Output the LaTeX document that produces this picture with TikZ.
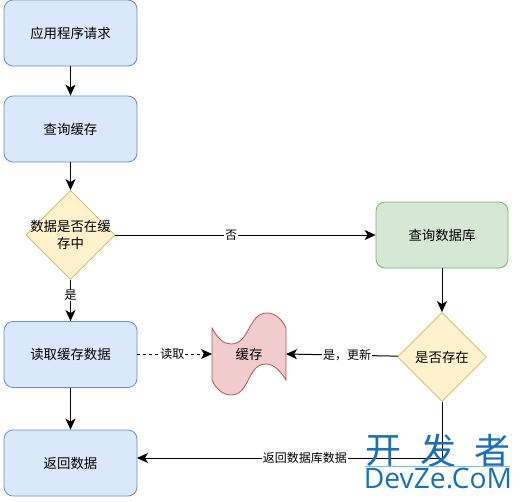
\documentclass[tikz,border=0pt]{standalone}
\usepackage{fontspec}
\setmainfont{Noto Sans CJK SC}
\newfontfamily\wmfont{Open Sans}
\usetikzlibrary{shapes.geometric,arrows.meta}
\definecolor{bfill}{HTML}{DAE8FC}\definecolor{bline}{HTML}{6C8EBF}
\definecolor{yfill}{HTML}{FFF2CC}\definecolor{yline}{HTML}{D6B656}
\definecolor{gfill}{HTML}{D5E8D4}\definecolor{gline}{HTML}{82B366}
\definecolor{rfill}{HTML}{F0CCCC}\definecolor{rline}{HTML}{B85450}
\definecolor{wmblue}{HTML}{1A6FB5}\definecolor{wmline}{HTML}{6CC4EE}
\tikzset{
 txt/.style={font=\fontsize{13.4}{17}\selectfont,text=black},
 bluebox/.style={txt,draw=bline,fill=bfill,rounded corners=9pt,minimum width=133pt,minimum height=66pt,inner sep=0pt,line width=.8pt},
 greenbox/.style={txt,draw=gline,fill=gfill,rounded corners=9pt,minimum width=132pt,minimum height=66pt,inner sep=0pt,line width=.8pt},
 dec/.style={draw=yline,fill=yfill,diamond,aspect=1,minimum width=89pt,minimum height=89pt,inner sep=0pt,line width=.8pt},
 dectxt/.style={txt,align=center,inner sep=0pt},
 conn/.style={-{Stealth[length=11pt,width=10pt,inset=3pt]},line width=1pt,black},
 lab/.style={font=\fontsize{12}{14}\selectfont,fill=white,inner xsep=1pt,inner ysep=0pt,text=black},
 wm/.style={text=wmblue,inner sep=0pt}
}
\begin{document}
\begin{tikzpicture}[x=1pt,y=-1pt]
\useasboundingbox (0,0) rectangle (521,501);
\node[bluebox] (req) at (70.5,33) {应用程序请求};
\node[bluebox] (query) at (70.5,129) {查询缓存};
\node[dec,label={[dectxt]center:数据是否在缓\\存中}] (incache) at (70.5,235) {};
\node[bluebox] (read) at (70.5,354.5) {读取缓存数据};
\node[bluebox] (ret) at (70.5,463) {返回数据};
\node[greenbox] (db) at (442,235) {查询数据库};
\node[dec,label={[dectxt]center:是否存在}] (exists) at (442,357) {};
\draw[rline,fill=rfill,line width=.8pt] (212,328) .. controls (218,339) and (224,344) .. (231,344)
  .. controls (250,344) and (248,313) .. (267,313) .. controls (275,313) and (282,319) .. (286,328)
  -- (286,380) .. controls (280,370) and (273,364) .. (266,364)
  .. controls (247,364) and (250,395) .. (231,395) .. controls (223,395) and (216,389) .. (212,380) -- cycle;
\node[txt,minimum width=74pt,minimum height=82pt,inner sep=0pt] (cache) at (249,354) {缓存};
\coordinate (cacheW) at (212,354);
\coordinate (cacheE) at (286,354);
\coordinate (retIn) at (137,458);
\draw[conn] (req) -- (query);
\draw[conn] (query) -- (incache);
\draw[conn] (incache) -- node[lab,pos=.38]{是} (read);
\draw[conn] (incache) -- node[lab,pos=.445]{否} (db);
\draw[conn] (db) -- (exists);
\draw[conn] (read) -- (ret);
\draw[conn,dashed] (read.east |- cacheW) -- node[lab,pos=.47]{读取} (cacheW);
\draw[conn] (exists) -- node[lab,pos=.455]{是，更新} (cacheE);
\draw[conn] (exists) |- node[lab,pos=.725]{返回数据库数据} (retIn);
\node[wm,font=\fontsize{36}{36}\selectfont] (wmk) at (383,451) {开};
\node[wm,font=\fontsize{36}{36}\selectfont] (wfa) at (438,451) {发};
\node[wm,font=\fontsize{36}{36}\selectfont] (wzh) at (492,451) {者};
\node[wm,font=\wmfont\fontsize{28.2}{28}\selectfont] (wmd) at (438,478.5) {DevZe.CoM};
\coordinate (wl) at (365,466.5); \coordinate (wr) at (510,466.5);
\draw[wmline,line width=.8pt] (wl) -- (wr);
\end{tikzpicture}
\end{document}
